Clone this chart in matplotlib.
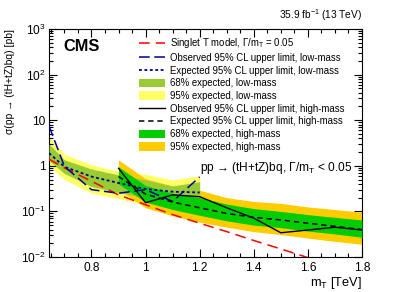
import numpy as np
import matplotlib
matplotlib.use('Agg')
import matplotlib.pyplot as plt
from matplotlib.patches import Patch
from matplotlib.lines import Line2D
from matplotlib.ticker import FixedLocator, LogLocator, NullFormatter, FixedFormatter

plt.rcParams['font.family'] = ['Liberation Sans', 'DejaVu Sans']
plt.rcParams['mathtext.fontset'] = 'custom'
plt.rcParams['mathtext.rm'] = 'Liberation Sans'
plt.rcParams['mathtext.it'] = 'Liberation Sans:italic'
plt.rcParams['mathtext.bf'] = 'Liberation Sans:bold'

### Data

# singlet T model, Gamma/m_T = 0.05
theory_mass = [0.643, 0.7, 0.8, 0.9, 1.0, 1.1, 1.2, 1.3, 1.4, 1.5, 1.6, 1.7, 1.8]
theory_xsec = [1.4, 0.9, 0.46, 0.23, 0.14, 0.085, 0.055, 0.036, 0.023, 0.015, 0.0097, 0.0063, 0.0041]

# low-mass search
low_mass = [0.643, 0.7, 0.8, 0.9, 1.0, 1.1, 1.2]
low_obs = [7.5, 0.97, 0.30, 0.25, 0.30, 0.165, 0.57]
low_exp = [1.9, 0.95, 0.58, 0.42, 0.31, 0.27, 0.26]
low_68_lo = [1.3, 0.68, 0.35, 0.26, 0.20, 0.18, 0.17]
low_68_hi = [3.0, 1.35, 0.85, 0.63, 0.49, 0.36, 0.45]
low_95_lo = [1.0, 0.50, 0.25, 0.19, 0.14, 0.13, 0.12]
low_95_hi = [4.2, 1.8, 1.05, 0.75, 0.65, 0.49, 0.60]

# high-mass search
high_mass = [0.9, 1.0, 1.1, 1.2, 1.3, 1.4, 1.5, 1.6, 1.7, 1.8]
high_obs = [0.88, 0.155, 0.23, 0.21, 0.12, 0.071, 0.034, 0.039, 0.045, 0.039]
high_exp = [0.58, 0.24, 0.16, 0.12, 0.09, 0.074, 0.065, 0.055, 0.047, 0.040]
high_68_lo = [0.40, 0.16, 0.11, 0.082, 0.062, 0.050, 0.044, 0.037, 0.032, 0.027]
high_68_hi = [0.95, 0.37, 0.25, 0.20, 0.145, 0.115, 0.100, 0.085, 0.074, 0.065]
high_95_lo = [0.30, 0.12, 0.08, 0.058, 0.045, 0.036, 0.031, 0.026, 0.022, 0.019]
high_95_hi = [1.35, 0.52, 0.36, 0.29, 0.20, 0.165, 0.150, 0.125, 0.110, 0.096]

x_ticks = [0.8, 1.0, 1.2, 1.4, 1.6, 1.8]
x_tick_labels = ['0.8', '1', '1.2', '1.4', '1.6', '1.8']
y_ticks = [1e-2, 1e-1, 1, 10, 1e2, 1e3]
y_tick_labels = ['$10^{-2}$', '$10^{-1}$', '1', '10', '$10^{2}$', '$10^{3}$']

### Colours
c_yellow = '#ffff66'
c_olive = '#99cc33'
c_green = '#00cc00'
c_orange = '#ffcc00'
c_red = '#ff0000'
c_blue = '#00009a'

### Plot
fig = plt.figure(figsize=(4.07, 2.92), dpi=100)
ax = fig.add_axes([0.1204, 0.1199, 0.7690, 0.7808])

ax.fill_between(low_mass, low_95_lo, low_95_hi, color=c_yellow, lw=0, zorder=1)
ax.fill_between(high_mass, high_95_lo, high_95_hi, color=c_orange, lw=0, zorder=2)
ax.fill_between(low_mass, low_68_lo, low_68_hi, color=c_olive, lw=0, zorder=3)
ax.fill_between(high_mass, high_68_lo, high_68_hi, color=c_green, lw=0, zorder=4)

ax.plot(theory_mass, theory_xsec, color=c_red, lw=1.1, dashes=(7, 4), zorder=5)
ax.plot(low_mass, low_obs, color=c_blue, lw=1.1, dashes=(7, 3), zorder=6)
ax.plot(low_mass, low_exp, color=c_blue, lw=1.3, dashes=(1.6, 1.4), zorder=6)
ax.plot(high_mass, high_obs, color='black', lw=1.0, zorder=7)
ax.plot(high_mass, high_exp, color='black', lw=1.1, dashes=(3.5, 2.5), zorder=7)

ax.set_yscale('log')
ax.set_xlim(0.643, 1.8)
ax.set_ylim(1e-2, 1e3)

ax.xaxis.set_major_locator(FixedLocator(x_ticks))
ax.xaxis.set_major_formatter(FixedFormatter(x_tick_labels))
ax.xaxis.set_minor_locator(FixedLocator(np.arange(0.65, 1.81, 0.05)))
ax.yaxis.set_major_locator(FixedLocator(y_ticks))
ax.yaxis.set_major_formatter(FixedFormatter(y_tick_labels))
ax.yaxis.set_minor_locator(LogLocator(base=10, subs=np.arange(2, 10), numticks=20))
ax.yaxis.set_minor_formatter(NullFormatter())

ax.tick_params(which='both', direction='in', top=True, right=True, labelsize=8.6, width=0.8)
ax.tick_params(axis='x', which='major', length=5.5, pad=3.5)
ax.tick_params(axis='x', which='minor', length=2.8)
ax.tick_params(axis='y', which='major', length=6, pad=2.5)
ax.tick_params(axis='y', which='minor', length=3)
for s in ax.spines.values():
    s.set_linewidth(0.8)

ax.text(-0.125, 1.0, 'σ(pp → (tH+tZ)bq) [pb]', rotation=90, ha='center', va='top',
        fontsize=7.4, transform=ax.transAxes)
ax.text(1.0, -0.08, 'm$_\\mathrm{T}$ [TeV]', ha='right', va='top', fontsize=9.2,
        transform=ax.transAxes)

ax.text(0.045, 0.955, 'CMS', fontsize=11.8, fontweight='bold', ha='left', va='top',
        transform=ax.transAxes)
ax.text(1.0, 1.025, '35.9 fb$^{-1}$ (13 TeV)', fontsize=7.3, ha='right', va='bottom',
        transform=ax.transAxes)
ax.text(0.968, 0.39, 'pp → (tH+tZ)bq, Γ/m$_\\mathrm{T}$ < 0.05', fontsize=8.6,
        ha='right', va='center', transform=ax.transAxes)

handles = [
    Line2D([], [], color=c_red, lw=1.1, dashes=(7, 4)),
    Line2D([], [], color=c_blue, lw=1.1, dashes=(7, 3)),
    Line2D([], [], color=c_blue, lw=1.3, dashes=(1.6, 1.4)),
    Patch(facecolor=c_olive, edgecolor='none'),
    Patch(facecolor=c_yellow, edgecolor='none'),
    Line2D([], [], color='black', lw=1.0),
    Line2D([], [], color='black', lw=1.1, dashes=(3.5, 2.5)),
    Patch(facecolor=c_green, edgecolor='none'),
    Patch(facecolor=c_orange, edgecolor='none'),
]
labels = [
    'Singlet T model, Γ/m$_\\mathrm{T}$ = 0.05',
    'Observed 95% CL upper limit, low-mass',
    'Expected 95% CL upper limit, low-mass',
    '68% expected, low-mass',
    '95% expected, low-mass',
    'Observed 95% CL upper limit, high-mass',
    'Expected 95% CL upper limit, high-mass',
    '68% expected, high-mass',
    '95% expected, high-mass',
]
ax.legend(handles, labels, loc='upper left', bbox_to_anchor=(0.2875, 0.968),
          frameon=False, fontsize=6.9, handlelength=2.7, handleheight=1.0,
          handletextpad=0.5, labelspacing=0.28, borderpad=0, borderaxespad=0)

fig.savefig('out.png', dpi=100)
